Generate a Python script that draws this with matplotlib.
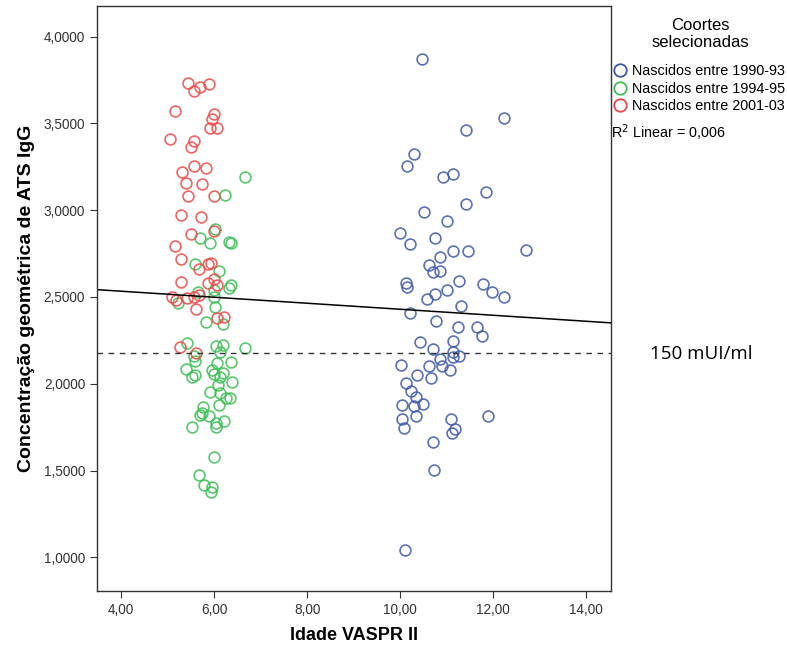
import matplotlib
matplotlib.use('Agg')
import matplotlib.pyplot as plt
import numpy as np

plt.rcParams['font.family'] = ['Liberation Sans', 'DejaVu Sans']

# Nascidos entre 1990-93
idade_1990 = [10.48, 12.24, 11.41, 10.31, 10.16, 10.92, 11.13, 11.85, 11.43, 10.52,
              11.02, 10.00, 10.75, 10.22, 11.15, 11.47, 12.70, 10.86, 10.62, 10.70,
              10.85, 11.27, 10.13, 10.16, 11.79, 11.97, 12.24, 11.00, 10.75, 10.57,
              11.31, 10.22, 10.77, 11.25, 11.65, 11.76, 10.42, 11.13, 10.70, 11.15,
              11.13, 11.27, 10.86, 10.91, 10.02, 10.62, 11.08, 10.37, 10.66, 10.12,
              10.24, 10.34, 10.05, 10.29, 10.49, 10.34, 10.05, 11.10, 11.90, 10.09,
              11.19, 11.12, 10.70, 10.72, 10.11]
conc_1990 = [3.870, 3.532, 3.463, 3.321, 3.252, 3.189, 3.206, 3.103, 3.035, 2.987,
             2.939, 2.870, 2.838, 2.803, 2.764, 2.766, 2.770, 2.732, 2.684, 2.645,
             2.651, 2.592, 2.582, 2.559, 2.573, 2.526, 2.498, 2.540, 2.515, 2.488,
             2.448, 2.409, 2.363, 2.328, 2.328, 2.275, 2.242, 2.248, 2.200, 2.184,
             2.152, 2.160, 2.141, 2.104, 2.108, 2.104, 2.079, 2.050, 2.035, 2.002,
             1.958, 1.925, 1.877, 1.873, 1.883, 1.816, 1.797, 1.797, 1.816, 1.743,
             1.739, 1.718, 1.666, 1.505, 1.042]

# Nascidos entre 1994-95
idade_1994 = [6.67, 6.24, 6.02, 5.70, 5.91, 6.31, 6.36, 5.58, 6.11, 6.31,
              6.36, 5.99, 5.66, 5.99, 5.23, 6.02, 5.82, 6.20, 5.41, 6.20,
              6.67, 6.12, 6.05, 5.56, 5.59, 6.37, 6.06, 5.40, 5.52, 5.59,
              5.95, 5.99, 6.20, 6.13, 6.38, 6.09, 5.91, 6.13, 6.26, 6.34,
              5.77, 6.11, 5.74, 5.70, 5.88, 5.53, 6.04, 6.04, 6.22, 5.99,
              5.68, 5.79, 5.95, 5.94]
conc_1994 = [3.191, 3.085, 2.889, 2.838, 2.809, 2.818, 2.812, 2.688, 2.651, 2.550,
             2.569, 2.540, 2.530, 2.501, 2.463, 2.444, 2.357, 2.344, 2.233, 2.223,
             2.207, 2.184, 2.217, 2.161, 2.131, 2.127, 2.118, 2.083, 2.040, 2.050,
             2.079, 2.054, 2.060, 2.040, 2.012, 1.993, 1.954, 1.948, 1.916, 1.919,
             1.867, 1.877, 1.829, 1.820, 1.816, 1.752, 1.775, 1.749, 1.785, 1.580,
             1.474, 1.416, 1.403, 1.374]

# Nascidos entre 2001-03
idade_2001 = [5.43, 5.56, 5.70, 5.89, 5.16, 5.99, 5.96, 5.92, 6.06, 5.04,
              5.56, 5.51, 5.56, 5.83, 5.31, 5.40, 5.74, 5.43, 5.99, 5.28,
              5.71, 5.51, 5.99, 5.16, 5.28, 5.86, 5.93, 5.68, 5.29, 5.87,
              5.99, 6.06, 5.10, 5.18, 5.41, 5.56, 5.68, 5.61, 6.06, 6.22,
              5.27, 5.61]
conc_2001 = [3.730, 3.686, 3.711, 3.725, 3.571, 3.552, 3.523, 3.471, 3.471, 3.410,
             3.396, 3.362, 3.256, 3.243, 3.219, 3.156, 3.152, 3.079, 3.079, 2.974,
             2.959, 2.861, 2.880, 2.795, 2.717, 2.688, 2.694, 2.659, 2.584, 2.578,
             2.603, 2.568, 2.501, 2.482, 2.492, 2.501, 2.511, 2.429, 2.377, 2.383,
             2.210, 2.175]

grupos = ['Nascidos entre 1990-93', 'Nascidos entre 1994-95', 'Nascidos entre 2001-03']
cores = ['#3e58ac', '#3cbf55', '#f04848']

# reta de regressão linear (todos os grupos)
reg_intercepto = 2.602
reg_inclinacao = -0.0173
r2_linear = 0.006

limiar = np.log10(150)  # 150 mUI/ml

x_ticks = [4, 6, 8, 10, 12, 14]
y_ticks = [1.0, 1.5, 2.0, 2.5, 3.0, 3.5, 4.0]

fig = plt.figure(figsize=(7.87, 6.49), dpi=100)
ax = fig.add_axes([0.1233, 0.0894, 0.6531, 0.9014])

dados = [(idade_1990, conc_1990), (idade_1994, conc_1994), (idade_2001, conc_2001)]
for (x, y), nome, cor in zip(dados, grupos, cores):
    ax.plot(x, y, linestyle='none', marker='o', markersize=7.8, markerfacecolor='none',
            markeredgecolor=cor, markeredgewidth=1.2, alpha=0.85, label=nome)

xlim = (3.48, 14.54)
xs = np.array(xlim)
ax.plot(xs, reg_intercepto + reg_inclinacao * xs, color='black', lw=1.1)
ax.axhline(limiar, color='#333333', lw=1.0, linestyle=(0, (4, 4)))

ax.set_xlim(xlim)
ax.set_ylim(0.806, 4.176)
ax.set_xticks(x_ticks)
ax.set_xticklabels([f'{v:.2f}'.replace('.', ',') for v in x_ticks])
ax.set_yticks(y_ticks)
ax.set_yticklabels([f'{v:.4f}'.replace('.', ',') for v in y_ticks])
ax.tick_params(direction='out', length=5, width=0.8, labelsize=9.8, colors='#333333')
for s in ax.spines.values():
    s.set_color('#333333')
    s.set_linewidth(1.0)

ax.set_xlabel('Idade VASPR II', fontsize=13, fontweight='bold', labelpad=7)
ax.set_ylabel('Concentração geométrica de ATS IgG', fontsize=14, fontweight='bold', labelpad=6)

# título da legenda
fig.text(0.8895, 0.948, 'Coortes\nselecionadas', fontsize=12, ha='center', va='center',
         multialignment='center', linespacing=1.15)

leg = ax.legend(loc='upper left', bbox_to_anchor=(0.779, 0.901), bbox_transform=fig.transFigure,
                frameon=False, fontsize=10.4, handletextpad=0.3, handlelength=1.0,
                labelspacing=0.25, borderpad=0.0, borderaxespad=0.0)
for h in leg.legend_handles:
    h.set_markeredgewidth(1.3)
    h.set_markersize(9)
    h.set_alpha(1.0)

fig.text(0.776, 0.795, f'R$^2$ Linear = {r2_linear:.3f}'.replace('.', ','),
         fontsize=10.4, ha='left', va='center')
fig.text(0.826, 0.455, '150 mUI/ml', fontsize=13.5, family=['Open Sans', 'DejaVu Sans'],
         ha='left', va='center')

fig.savefig('out.png', dpi=100)
